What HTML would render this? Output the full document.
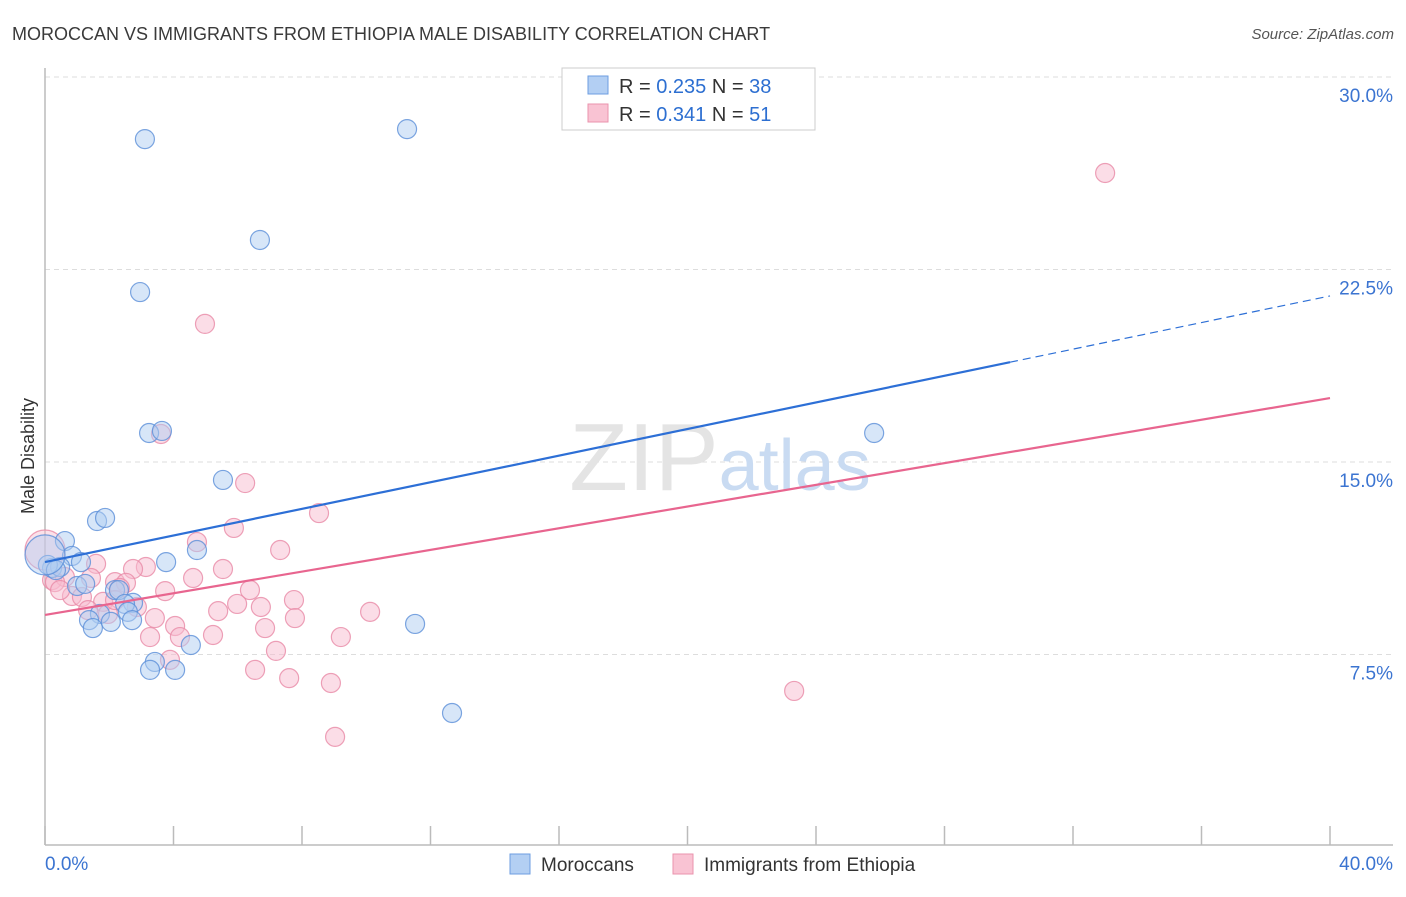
<!DOCTYPE html>
<html><head><meta charset="utf-8"><style>
body{margin:0;background:#fff;font-family:"Liberation Sans",sans-serif;}
svg text{font-family:"Liberation Sans",sans-serif;}
</style></head><body>
<svg id="chart" width="1406" height="892" viewBox="0 0 1406 892">
<text x="12" y="40" font-size="18" fill="#3a3a3a">MOROCCAN VS IMMIGRANTS FROM ETHIOPIA MALE DISABILITY CORRELATION CHART</text>
<text x="1394" y="39" font-size="15" fill="#555" font-style="italic" text-anchor="end">Source: ZipAtlas.com</text>
<text x="0" y="0" transform="translate(34,456) rotate(-90)" font-size="18" fill="#333" text-anchor="middle">Male Disability</text>
<g id="grid"></g>
<g id="axes"></g>
<text x="720" y="490" font-size="96" fill="#e4e4e4" text-anchor="middle" font-family="Liberation Serif">ZIP<tspan fill="#c9dbf2" font-family="Liberation Sans" font-size="72">atlas</tspan></text>
<g id="points"></g>
<g id="lines"></g>
<g>
<rect x="562" y="68" width="253" height="62" fill="#fff" stroke="#ccc"/>
<rect x="588" y="76" width="20" height="18" fill="#b3cff3" stroke="#6c9ee0"/>
<rect x="588" y="104" width="20" height="18" fill="#f9c3d3" stroke="#ea93ad"/>
<text x="619" y="93" font-size="20" fill="#333">R = <tspan fill="#2d6fd1">0.235</tspan>   N = <tspan fill="#2d6fd1">38</tspan></text>
<text x="619" y="121" font-size="20" fill="#333">R =  <tspan fill="#2d6fd1">0.341</tspan>   N =  <tspan fill="#2d6fd1">51</tspan></text>
</g>
<g>
<rect x="510" y="854" width="20" height="20" fill="#b3cff3" stroke="#6c9ee0"/>
<text x="541" y="871" font-size="19" fill="#333">Moroccans</text>
<rect x="673" y="854" width="20" height="20" fill="#f9c3d3" stroke="#ea93ad"/>
<text x="704" y="871" font-size="19" fill="#333">Immigrants from Ethiopia</text>
</g>
</svg>
<script>
const yTicks=[7.5,15,22.5,30];
const yTickLabels=["7.5%","15.0%","22.5%","30.0%"];
const xTicks=[0,4,8,12,16,20,24,28,32,36,40];
const blueX=[3.11,11.27,6.69,2.96,3.24,3.64,5.54,25.81,1.62,1.87,0.62,0.84,1.12,0.22,0.47,3.77,4.73,1.00,1.25,2.18,2.30,2.74,2.49,2.58,1.71,1.37,2.05,2.71,1.49,4.54,3.42,3.27,4.05,11.52,12.67,0.09,0.34,0];
const blueY=[27.58,27.97,23.65,21.62,16.13,16.21,14.30,16.13,12.70,12.82,11.92,11.34,11.10,10.87,10.91,11.10,11.57,10.17,10.25,10.01,10.01,9.51,9.47,9.16,9.08,8.84,8.77,8.84,8.53,7.87,7.21,6.90,6.90,8.69,5.22,10.99,10.79,11.38];
const pinkX=[33.00,4.98,3.61,6.23,8.53,5.88,4.73,7.32,1.59,3.14,2.74,5.54,0.22,0.62,1.43,4.61,2.18,2.52,6.38,3.74,0.84,1.15,1.81,5.98,7.75,6.72,2.86,10.12,5.39,3.42,7.78,1.96,4.05,6.85,5.23,3.27,4.20,9.21,7.19,3.89,6.54,7.60,8.90,23.32,9.03,0.31,0.47,2.33,1.34,2.18,0];
const pinkY=[26.26,20.38,16.09,14.18,13.01,12.43,11.88,11.57,11.03,10.91,10.83,10.83,10.40,10.52,10.48,10.48,10.32,10.29,10.01,9.97,9.78,9.74,9.55,9.47,9.62,9.35,9.35,9.16,9.19,8.92,8.92,9.08,8.61,8.53,8.26,8.18,8.18,8.18,7.64,7.29,6.90,6.58,6.39,6.08,4.29,10.32,10.01,10.09,9.23,9.62,11.57];
const blueTrend=[11.10,21.47], blueSolidEnd=30.04;
const pinkTrend=[9.04,17.49];
const X0=45,X1=1330,Y0=847,PXY=25.667;
const sx=v=>X0+(X1-X0)*v/40, sy=v=>Y0-v*PXY;
const NS="http://www.w3.org/2000/svg";
function mk(tag,attrs,parent){const e=document.createElementNS(NS,tag);for(const k in attrs)e.setAttribute(k,attrs[k]);parent.appendChild(e);return e;}
const grid=document.getElementById('grid'),axes=document.getElementById('axes'),pts=document.getElementById('points'),lines=document.getElementById('lines');
yTicks.forEach((t,i)=>{
  const l=mk('line',{x1:45,x2:1393,y1:sy(t),y2:sy(t),stroke:'#ddd','stroke-dasharray':'5,4'},grid);
  
  
  const tx=mk('text',{x:1393,y:sy(t)+25,'font-size':19,fill:'#3b74d1','text-anchor':'end'},grid);
  tx.textContent=yTickLabels[i];
  
  
});
let a=mk('line',{x1:45,x2:45,y1:68,y2:845,stroke:'#bbb','stroke-width':1.5},axes);


a=mk('line',{x1:45,x2:1393,y1:845,y2:845,stroke:'#bbb','stroke-width':1.5},axes);


xTicks.forEach(t=>{
  const l=mk('line',{x1:sx(t),x2:sx(t),y1:826,y2:845,stroke:'#bbb','stroke-width':1.5},axes);
  
  
});
let xl=mk('text',{x:45,y:870,'font-size':19,fill:'#3b74d1'},axes);xl.textContent='0.0%';


xl=mk('text',{x:1393,y:870,'font-size':19,fill:'#3b74d1','text-anchor':'end'},axes);xl.textContent='40.0%';


function drawPts(X,Y,fill,stroke,name){
  X.forEach((x,i)=>{
    const big=(x===0);
    const c=mk('circle',{cx:sx(x),cy:sy(Y[i]),r:big?20:9.5,fill:fill,'fill-opacity':big?0.45:0.5,stroke:stroke,'stroke-opacity':0.8,'stroke-width':1.2},pts);
    
    
  });
}
drawPts(pinkX,pinkY,'#f8bccf','#e889a6','point-ethiopia');
drawPts(blueX,blueY,'#b0cdf2','#5b8fd8','point-moroccans');
const by=x=>blueTrend[0]+(blueTrend[1]-blueTrend[0])*x/40;
let ln=mk('line',{x1:sx(0),y1:sy(blueTrend[0]),x2:sx(blueSolidEnd),y2:sy(by(blueSolidEnd)),stroke:'#2d6fd6','stroke-width':2.2},lines);


ln=mk('line',{x1:sx(blueSolidEnd),y1:sy(by(blueSolidEnd)),x2:sx(40),y2:sy(blueTrend[1]),stroke:'#2d6fd6','stroke-width':1.2,'stroke-dasharray':'8,5'},lines);


ln=mk('line',{x1:sx(0),y1:sy(pinkTrend[0]),x2:sx(40),y2:sy(pinkTrend[1]),stroke:'#e8658f','stroke-width':2.2},lines);


</script>
</body></html>
